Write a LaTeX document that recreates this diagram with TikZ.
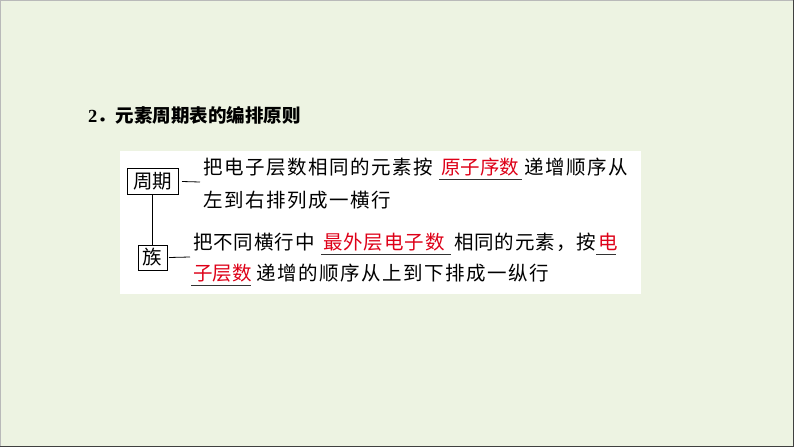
\documentclass[tikz,border=0pt]{standalone}
\usepackage{fontspec}
\setmainfont{Liberation Serif}
\newfontfamily\cjk[LetterSpace=8]{Noto Sans CJK SC}
\newfontfamily\cjknarrow[LetterSpace=5]{Noto Sans CJK SC}
\newfontfamily\cjkplain{Noto Sans CJK SC}
\usetikzlibrary{calc}
\definecolor{pagegreen}{RGB}{237,243,226}
\definecolor{keyred}{RGB}{222,0,24}

\begin{document}
\begin{tikzpicture}[x=1pt, y=-1pt,
  every node/.style={inner sep=0pt, outer sep=0pt},
  txt/.style={anchor=west, font=\cjk\fontsize{19.5}{20}\selectfont},
  txtnarrow/.style={anchor=west, font=\cjknarrow\fontsize{19.5}{20}\selectfont},
  key/.style={anchor=west, text=keyred, font=\cjkplain\fontsize{19.5}{20}\selectfont},
  tag/.style={draw, line width=0.8pt, font=\cjkplain\fontsize{19.5}{20}\selectfont, minimum height=26pt},
  link/.style={line width=0.8pt},
  uline/.style={draw=black!80, line width=1.4pt}]
\useasboundingbox (0,0) rectangle (794,447);
\fill[pagegreen] (0,0) rectangle (794,447);
\draw[gray!55] (0.5,447) -- (0.5,0.5) -- (794,0.5);
\draw[black!75, line width=1.5pt] (793.25,0) -- (793.25,446.25) -- (0,446.25);

% heading
\node[anchor=west] (title) at (88,115) {\fontsize{18.5}{20}\selectfont\bfseries 2{\cjkplain ．元素周期表的编排原则}};

% white panel
\fill[white] (120,151) rectangle (641,294);

% the two tags
\node[tag, minimum width=51pt] (zhouqi) at (152.5,181.5) {周期};
\node[tag, minimum width=29pt, minimum height=25pt] (zu) at (152.5,257.5) {族};
\draw[link] (zhouqi) -- (zu);

% period text
\node[txt] (l1a) at (203,167) {把电子层数相同的元素按};
\node[key] (l1b) at (441,167) {原子序数};
\node[txt] (l1c) at (524,167) {递增顺序从};
\node[txt] (l2) at (203,200) {左到右排列成一横行};

% group text
\node[txtnarrow] (l3a) at (193,242) {把不同横行中};
\node[key, font=\cjknarrow\fontsize{19.5}{20}\selectfont] (l3b) at (323,242) {最外层电子数};
\node[txtnarrow] (l3c) at (454,242) {相同的元素，按};
\node[key] (l3d) at (598,242) {电};
\node[key] (l4a) at (193,273) {子层数};
\node[txt] (l4b) at (256,273) {递增的顺序从上到下排成一纵行};

% dashes
\coordinate (d1) at (200,182);
\coordinate (d2) at (190,257);
\draw[link] (zhouqi.east) ++(4,0) -- (d1);
\draw[link] (zu.east) ++(2,0) -- (d2);

% blanks under the answers
\foreach \k/\w in {l1b/83, l3b/130, l3d/20, l4a/60}
  \draw[uline] ($(\k.west)+(-2,12.5)$) -- ++(\w,0);
\end{tikzpicture}
\end{document}
